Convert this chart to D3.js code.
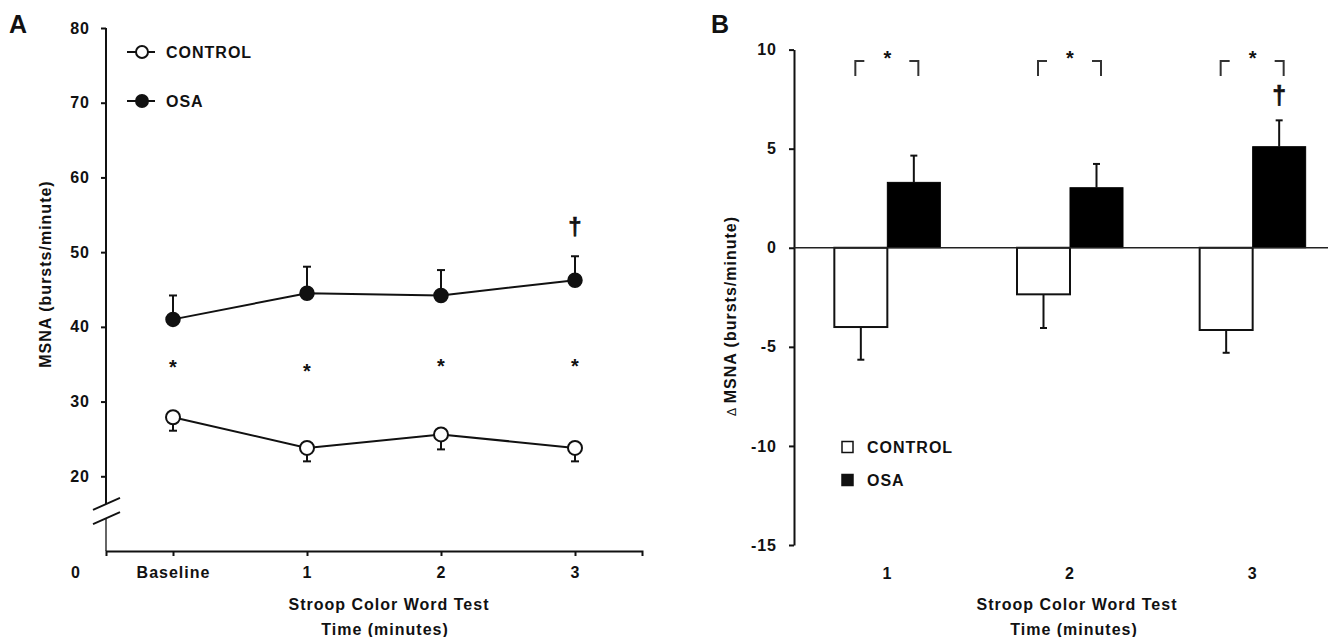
<!DOCTYPE html>
<html>
<head>
<meta charset="utf-8">
<title>MSNA during Stroop test</title>
<script src="https://cdn.jsdelivr.net/npm/d3@7"></script>
<style>
  html, body { margin: 0; padding: 0; background: #fff; }
  svg text {
    font-family: "Liberation Sans", Arial, sans-serif;
    font-weight: bold;
    font-size: 16px;
    letter-spacing: 1px;
    fill: #111;
  }
</style>
</head>
<body>
<svg id="chart" width="1331" height="637"></svg>
<script>
// ---- panel A : absolute MSNA ----
var timeLabels = ["Baseline", "1", "2", "3"];
var controlA = [27.9, 23.8, 25.6, 23.8];
var controlSeA = [1.8, 1.8, 2.0, 1.8];
var osaA = [41.0, 44.5, 44.2, 46.25];
var osaSeA = [3.2, 3.55, 3.4, 3.2];
var starA = [35.15, 34.65, 35.3, 35.3];   // height of the * marks
var yTicksA = [20, 30, 40, 50, 60, 70, 80];

// ---- panel B : change in MSNA ----
var minuteLabels = ["1", "2", "3"];
var controlB = [-4.0, -2.35, -4.15];
var controlSeB = [1.65, 1.7, 1.15];
var osaB = [3.3, 3.03, 5.1];
var osaSeB = [1.35, 1.2, 1.33];
var yTicksB = [10, 5, 0, -5, -10, -15];

var svg = d3.select("#chart");
var ink = "#111";
var plain = function(d) { return String(d); };   // keep "-" hyphen like the original

// ================= A =================
var gA = svg.append("g");
var xA = d3.scalePoint().domain(timeLabels).range([106, 642]).padding(0.5);
var yA = d3.scaleLinear().domain([10, 80]).range([551, 28]);

gA.append("text").attr("x", 9).attr("y", 33).style("font-size", "25px").style("letter-spacing", "0").text("A");

var gyA = gA.append("g").attr("transform", "translate(106,0)")
  .call(d3.axisLeft(yA).tickValues(yTicksA).tickFormat(plain).tickSize(5).tickPadding(11));
gyA.select(".domain").remove();
gyA.selectAll("line").attr("stroke", ink).attr("stroke-width", 2);
gyA.selectAll("text").attr("font-family", null).attr("font-size", null);

// broken y axis
var breakTop = yA(16.3), breakBot = yA(14.4);
gA.append("line").attr("x1", 106).attr("x2", 106).attr("y1", yA(80)).attr("y2", breakTop)
  .attr("stroke", ink).attr("stroke-width", 2);
gA.append("line").attr("x1", 106).attr("x2", 106).attr("y1", breakBot).attr("y2", yA(10))
  .attr("stroke", "#333").attr("stroke-width", 1.5);
[breakTop, breakBot].forEach(function(yb) {
  gA.append("line").attr("x1", 93).attr("y1", yb + 6).attr("x2", 120).attr("y2", yb - 6)
    .attr("stroke", ink).attr("stroke-width", 1.8);
});
gA.append("text").attr("x", 76).attr("y", yA(10) + 27).attr("text-anchor", "middle").text("0");

var gxA = gA.append("g").attr("transform", "translate(0," + yA(10) + ")")
  .call(d3.axisBottom(xA).tickSize(5).tickSizeOuter(5).tickPadding(11));
gxA.select(".domain").attr("stroke", ink).attr("stroke-width", 2);
gxA.selectAll("line").attr("stroke", ink).attr("stroke-width", 2);
gxA.selectAll("text").attr("font-family", null).attr("font-size", null);

gA.append("text").attr("x", 389).attr("y", 610).attr("text-anchor", "middle").text("Stroop Color Word Test");
gA.append("text").attr("x", 385).attr("y", 635).attr("text-anchor", "middle").text("Time (minutes)");
gA.append("text").attr("transform", "translate(51,274) rotate(-90)").attr("text-anchor", "middle")
  .text("MSNA (bursts/minute)");

var lineA = d3.line().x(function(d, i) { return xA(timeLabels[i]); }).y(function(d) { return yA(d); });

// error bars (one-sided)
function errA(vals, ses, dir) {
  vals.forEach(function(v, i) {
    var x = xA(timeLabels[i]), yEnd = yA(v + dir * ses[i]);
    gA.append("line").attr("x1", x).attr("x2", x).attr("y1", yA(v)).attr("y2", yEnd)
      .attr("stroke", ink).attr("stroke-width", 2);
    gA.append("line").attr("x1", x - 4).attr("x2", x + 4).attr("y1", yEnd).attr("y2", yEnd)
      .attr("stroke", ink).attr("stroke-width", 2);
  });
}
errA(osaA, osaSeA, 1);
errA(controlA, controlSeA, -1);

gA.append("path").attr("d", lineA(osaA)).attr("fill", "none").attr("stroke", ink).attr("stroke-width", 2);
gA.append("path").attr("d", lineA(controlA)).attr("fill", "none").attr("stroke", ink).attr("stroke-width", 2);

gA.selectAll("circle.osa").data(osaA).enter().append("circle").attr("class", "osa")
  .attr("cx", function(d, i) { return xA(timeLabels[i]); }).attr("cy", function(d) { return yA(d); })
  .attr("r", 7).attr("fill", ink).attr("stroke", ink).attr("stroke-width", 1.5);
gA.selectAll("circle.ctl").data(controlA).enter().append("circle").attr("class", "ctl")
  .attr("cx", function(d, i) { return xA(timeLabels[i]); }).attr("cy", function(d) { return yA(d); })
  .attr("r", 7).attr("fill", "#fff").attr("stroke", ink).attr("stroke-width", 2);

gA.selectAll("text.star").data(starA).enter().append("text").attr("class", "star")
  .attr("x", function(d, i) { return xA(timeLabels[i]); }).attr("y", function(d) { return yA(d) + 11; })
  .attr("text-anchor", "middle").style("font-size", "20px").style("letter-spacing", "0").text("*");
gA.append("text").attr("x", xA("3")).attr("y", yA(osaA[3] + osaSeA[3]) - 21)
  .attr("text-anchor", "middle").style("font-size", "24px").style("letter-spacing", "0")
  .style("stroke", ink).style("stroke-width", 0.6).text("\u2020");

// legend A
[["CONTROL", 52, "#fff"], ["OSA", 101, ink]].forEach(function(l) {
  gA.append("line").attr("x1", 127).attr("x2", 155).attr("y1", l[1]).attr("y2", l[1])
    .attr("stroke", ink).attr("stroke-width", 2);
  gA.append("circle").attr("cx", 142).attr("cy", l[1]).attr("r", 6)
    .attr("fill", l[2]).attr("stroke", ink).attr("stroke-width", 2);
  gA.append("text").attr("x", 166).attr("y", l[1] + 6).text(l[0]);
});

// ================= B =================
var gB = svg.append("g");
var xB = d3.scalePoint().domain(minuteLabels).range([796, 1344]).padding(0.5);
var yB = d3.scaleLinear().domain([-15, 10]).range([545, 49.6]);
var barW = 53;

gB.append("text").attr("x", 711).attr("y", 33).style("font-size", "25px").style("letter-spacing", "0").text("B");

var gyB = gB.append("g").attr("transform", "translate(794,0)")
  .call(d3.axisLeft(yB).tickValues(yTicksB).tickFormat(plain).tickSize(5).tickSizeOuter(0).tickPadding(12));
gyB.select(".domain").attr("stroke", ink).attr("stroke-width", 2);
gyB.selectAll("line").attr("stroke", ink).attr("stroke-width", 2);
gyB.selectAll("text").attr("font-family", null).attr("font-size", null);

gB.selectAll("text.xl").data(minuteLabels).enter().append("text").attr("class", "xl")
  .attr("x", function(d) { return xB(d); }).attr("y", 579).attr("text-anchor", "middle").text(function(d) { return d; });

gB.append("text").attr("x", 1077).attr("y", 610).attr("text-anchor", "middle").text("Stroop Color Word Test");
gB.append("text").attr("x", 1074).attr("y", 635).attr("text-anchor", "middle").text("Time (minutes)");
var tB = gB.append("text").attr("transform", "translate(736,316) rotate(-90)").attr("text-anchor", "middle");
tB.append("tspan").style("font-weight", "normal").style("font-size", "12px").text("\u0394 ");
tB.append("tspan").text("MSNA (bursts/minute)");

// bars
gB.selectAll("rect.ctl").data(controlB).enter().append("rect").attr("class", "ctl")
  .attr("x", function(d, i) { return xB(minuteLabels[i]) - barW; }).attr("y", yB(0))
  .attr("width", barW).attr("height", function(d) { return yB(d) - yB(0); })
  .attr("fill", "#fff").attr("stroke", ink).attr("stroke-width", 2);
gB.selectAll("rect.osa").data(osaB).enter().append("rect").attr("class", "osa")
  .attr("x", function(d, i) { return xB(minuteLabels[i]); }).attr("y", function(d) { return yB(d); })
  .attr("width", barW).attr("height", function(d) { return yB(0) - yB(d); })
  .attr("fill", "#000").attr("stroke", "#000").attr("stroke-width", 1);

gB.append("line").attr("x1", 794).attr("x2", 1328).attr("y1", yB(0)).attr("y2", yB(0))
  .attr("stroke", "#222").attr("stroke-width", 1.6);

function errB(vals, ses, dir, off) {
  vals.forEach(function(v, i) {
    var x = xB(minuteLabels[i]) + off, yEnd = yB(v + dir * ses[i]);
    gB.append("line").attr("x1", x).attr("x2", x).attr("y1", yB(v)).attr("y2", yEnd)
      .attr("stroke", ink).attr("stroke-width", 2);
    gB.append("line").attr("x1", x - 3.5).attr("x2", x + 3.5).attr("y1", yEnd).attr("y2", yEnd)
      .attr("stroke", ink).attr("stroke-width", 2);
  });
}
errB(controlB, controlSeB, -1, -barW / 2);
errB(osaB, osaSeB, 1, barW / 2);

// significance brackets
minuteLabels.forEach(function(m) {
  var c = xB(m), l = c - 32, r = c + 31;
  gB.append("path").attr("d", "M" + l + ",76V61H" + (l + 9) + "M" + (r - 9) + ",61H" + r + "V76")
    .attr("fill", "none").attr("stroke", "#333").attr("stroke-width", 2);
  gB.append("text").attr("x", c).attr("y", 65).attr("text-anchor", "middle")
    .style("font-size", "20px").style("letter-spacing", "0").text("*");
});
gB.append("text").attr("x", xB("3") + barW / 2).attr("y", yB(osaB[2] + osaSeB[2]) - 16)
  .attr("text-anchor", "middle").style("font-size", "25px").style("letter-spacing", "0")
  .style("stroke", ink).style("stroke-width", 0.6).text("\u2020");

// legend B
[["CONTROL", 447, "#fff"], ["OSA", 480, ink]].forEach(function(l) {
  gB.append("rect").attr("x", 842).attr("y", l[1] - 5.5).attr("width", 11).attr("height", 11)
    .attr("fill", l[2]).attr("stroke", ink).attr("stroke-width", 1.5);
  gB.append("text").attr("x", 867).attr("y", l[1] + 6).text(l[0]);
});
</script>
</body>
</html>
